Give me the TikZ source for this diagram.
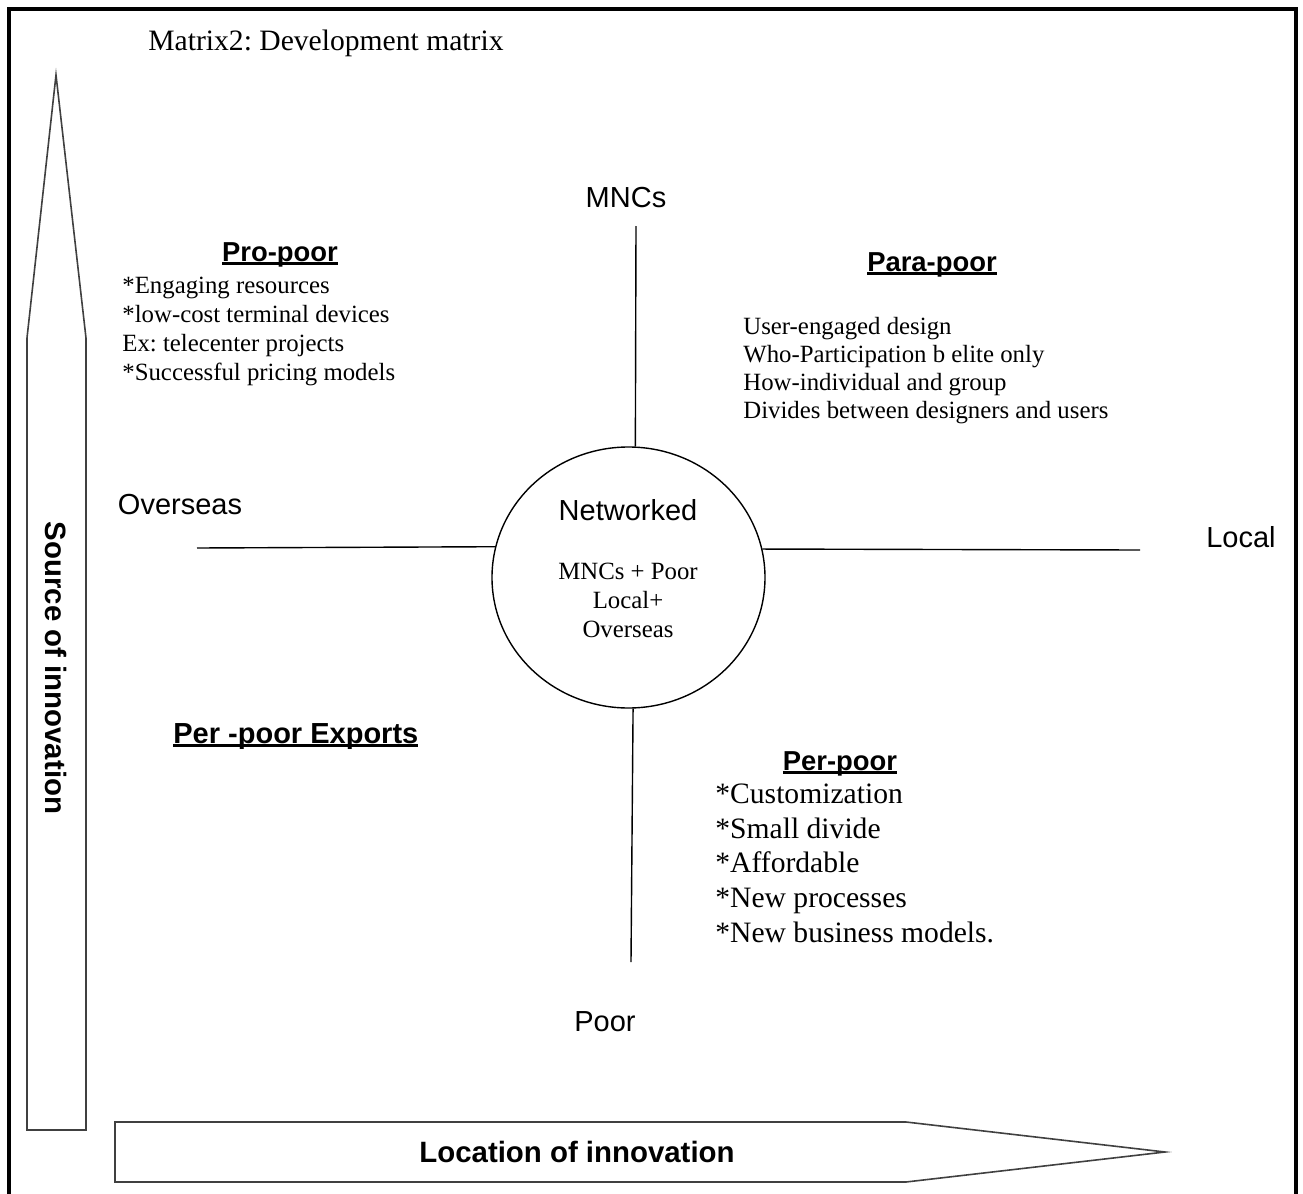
\documentclass[tikz,border=0pt]{standalone}
\usepackage{fontspec}
\setmainfont{Liberation Serif}
\setsansfont{Liberation Sans}
\usetikzlibrary{positioning, shapes.geometric}
\frenchspacing

% thick underline for the quadrant headings
\newcommand{\thickul}[1]{\setbox0=\hbox{#1}\leavevmode\rlap{\rule[-2pt]{\wd0}{1.5pt}}\box0}

\tikzset{
  axis/.style={line width=0.7pt},
  bigarrow/.style={draw=black!75, line width=0.8pt},
  sidelbl/.style={font=\sffamily\fontsize{14.5}{17}\selectfont, inner sep=0pt, anchor=base},
  quadhead/.style={font=\sffamily\bfseries\fontsize{13.7}{16}\selectfont, inner sep=0pt, anchor=base},
  quadtext/.style={font=\fontsize{12.4}{14.5}\selectfont, align=left, inner sep=0pt, anchor=base west},
  arrowlbl/.style={font=\sffamily\bfseries\fontsize{14.7}{17}\selectfont, inner sep=0pt}
}

\begin{document}
\begin{tikzpicture}[x=0.5pt, y=-0.5pt]
\useasboundingbox (0,0) rectangle (1303,1194);
\draw[line width=2pt] (9,1210) -- (9,9) -- (1296,9) -- (1296,1210);

\node[font=\fontsize{14.8}{17}\selectfont, inner sep=0pt, anchor=base west] (title)
    at (148,50) {Matrix2: Development matrix};

% the two big arrows
\draw[bigarrow] (27,1130) -- (27,338) -- (56,75) -- (86,338) -- (86,1130) -- cycle;
\draw[bigarrow] (115,1122) -- (906,1122) -- (1165,1152) -- (906,1182) -- (115,1182) -- cycle;
\node[arrowlbl, rotate=-90] (source) at (56,668) {Source of innovation};
\node[arrowlbl] (location) at (577,1152) {Location of innovation};

% centre and axes
\node[ellipse, draw, line width=0.7pt, minimum width=136.5pt, minimum height=130.5pt,
    inner sep=0pt] (net) at (628.5,577.5) {};
\node[sidelbl] (netlbl) at (628,520) {Networked};
\node[font=\fontsize{12.4}{14.5}\selectfont, align=center, inner sep=0pt, anchor=base]
    (netlist) at (628,637) {MNCs + Poor\\Local+\\Overseas};

\coordinate (ytop) at (636,226);
\coordinate (ybot) at (631,962);
\coordinate (xleft) at (197,548);
\coordinate (xright) at (1140,550);
\draw[axis] (ytop) -- (net.87);
\draw[axis] (net.-88.5) -- (ybot);
\draw[axis] (xleft) -- (net.167.5);
\draw[axis] (net.12.5) -- (xright);

\node[sidelbl] (mncs) at (626,207) {MNCs};
\node[sidelbl] (poor) at (605,1031) {Poor};
\node[sidelbl] (overseas) at (180,514) {Overseas};
\node[sidelbl] (local) at (1241,547) {Local};

% quadrants (lists are placed by the baseline of their last line)
\node[quadhead] (prohead) at (280,261) {\thickul{Pro-poor}};
\node[quadtext] (prolist) at (122,380)
    {*Engaging resources\\*low-cost terminal devices\\Ex: telecenter projects\\*Successful pricing models};

\node[quadhead] (parahead) at (932,271) {\thickul{Para-poor}};
\node[quadtext, font=\fontsize{12.4}{13.9}\selectfont] (paralist) at (743,418)
    {User-engaged design\\Who-Participation b elite only\\How-individual and group\\Divides between designers and users};

\node[quadhead, font=\sffamily\bfseries\fontsize{14.5}{17}\selectfont, anchor=base west]
    (exphead) at (173,743) {\thickul{Per -poor Exports}};

\node[quadhead] (perhead) at (840,770) {\thickul{Per-poor}};
\node[quadtext, font=\fontsize{14.8}{17.3}\selectfont] (perlist) at (715,942)
    {*Customization\\*Small divide\\*Affordable\\*New processes\\*New business models.};
\end{tikzpicture}
\end{document}
